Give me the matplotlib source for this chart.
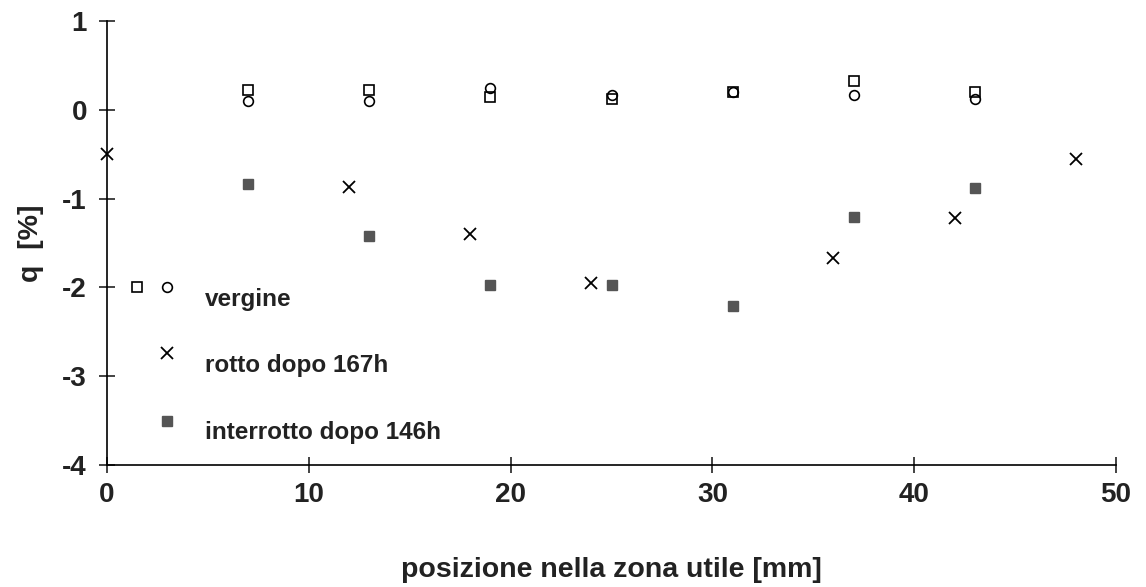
import matplotlib
matplotlib.use("Agg")
import matplotlib.pyplot as plt

# vergine (two measurements per position: squares and circles)
verg_x = [7, 13, 19, 25, 31, 37, 43]
verg_sq = [0.22, 0.22, 0.15, 0.12, 0.20, 0.33, 0.20]
verg_ci = [0.10, 0.10, 0.25, 0.17, 0.20, 0.17, 0.12]

# rotto dopo 167h
rotto_x = [0, 12, 18, 24, 36, 42, 48]
rotto_q = [-0.50, -0.87, -1.40, -1.95, -1.67, -1.22, -0.55]

# interrotto dopo 146h
inter_x = [7, 13, 19, 25, 31, 37, 43]
inter_q = [-0.83, -1.42, -1.97, -1.97, -2.21, -1.21, -0.88]

xticks = [0, 10, 20, 30, 40, 50]
yticks = [1, 0, -1, -2, -3, -4]

plt.rcParams["font.family"] = ["Liberation Sans", "DejaVu Sans"]
plt.rcParams["font.weight"] = "bold"
plt.rcParams["axes.unicode_minus"] = False

fig = plt.figure(figsize=(11.46, 5.87), dpi=100)
ax = fig.add_axes([0.0934, 0.2078, 0.8804, 0.7562])

gray = "#555555"
ax.plot(verg_x, verg_sq, ls="none", marker="s", ms=7, mfc="white", mec="black", mew=1.2, clip_on=False)
ax.plot(verg_x, verg_ci, ls="none", marker="o", ms=7, mfc="none", mec="black", mew=1.2, clip_on=False)
ax.plot(rotto_x, rotto_q, ls="none", marker="x", ms=9, mec="black", mew=1.3, clip_on=False)
ax.plot(inter_x, inter_q, ls="none", marker="s", ms=7, mfc=gray, mec=gray, clip_on=False)

ax.set_xlim(0, 50)
ax.set_ylim(-4, 1)
ax.set_xticks(xticks)
ax.set_yticks(yticks)
for s in ["top", "right"]:
    ax.spines[s].set_visible(False)
for s in ["left", "bottom"]:
    ax.spines[s].set_linewidth(1.2)
ax.tick_params(direction="inout", length=11, width=1.2, labelsize=20, colors="#222222")
ax.tick_params(axis="x", pad=7)
ax.tick_params(axis="y", pad=9)

ax.set_xlabel("posizione nella zona utile [mm]", fontsize=20.5, fontweight="bold", labelpad=35, color="#222222")
ax.set_ylabel("q  [%]", fontsize=20.5, fontweight="bold", labelpad=13, color="#222222")

# hand-placed legend (axes fractions)
tr = ax.transAxes
ax.plot([0.030], [0.401], transform=tr, marker="s", ms=7, mfc="white", mec="black", mew=1.2, clip_on=False)
ax.plot([0.059], [0.401], transform=tr, marker="o", ms=7, mfc="none", mec="black", mew=1.2, clip_on=False)
ax.plot([0.059], [0.252], transform=tr, marker="x", ms=9, mec="black", mew=1.3, clip_on=False)
ax.plot([0.059], [0.099], transform=tr, marker="s", ms=7, mfc=gray, mec=gray, clip_on=False)
labels = ["vergine", "rotto dopo 167h", "interrotto dopo 146h"]
for txt, fy in zip(labels, [0.372, 0.225, 0.074]):
    ax.text(0.097, fy, txt, transform=tr, fontsize=17.5, fontweight="bold", color="#222222", va="center", ha="left")

fig.savefig("out.png", dpi=100)
